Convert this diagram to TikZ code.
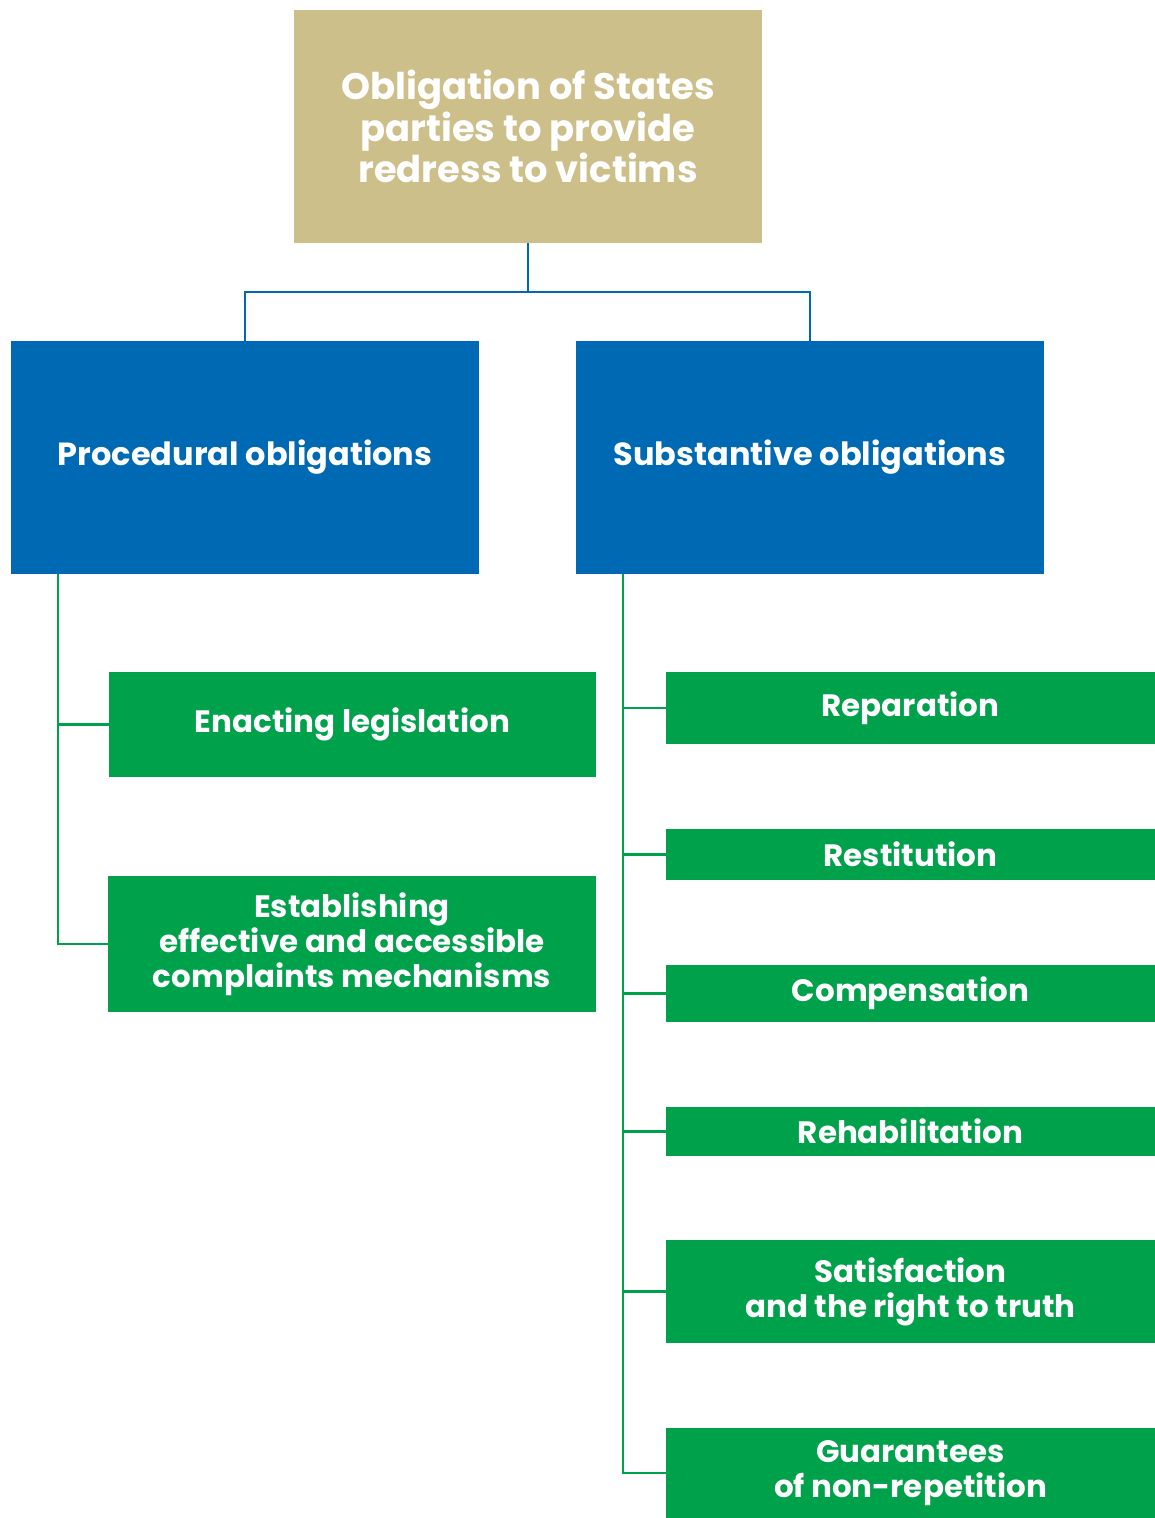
\documentclass[tikz,border=0pt]{standalone}
\usepackage{fontspec}
\setmainfont{Poppins}
\usepackage{xcolor}
\usepackage{tikz}
\usetikzlibrary{positioning,calc}
\definecolor{untan}{HTML}{CDBF8A}
\definecolor{unblue}{HTML}{0069B4}
\definecolor{ungreen}{HTML}{00A14B}

\begin{document}
\begin{tikzpicture}[x=0.02cm,y=-0.02cm,font=\bfseries]
    \tikzstyle{top}=[fill=untan,text=white,inner sep=0pt,minimum width=9.36cm,minimum height=4.66cm,align=center,font=\bfseries\fontsize{21}{23.8}\selectfont]
    \tikzstyle{mid}=[fill=unblue,text=white,inner sep=0pt,minimum width=9.36cm,minimum height=4.66cm,align=center,font=\bfseries\fontsize{18.2}{20}\selectfont]
    \tikzstyle{leaf}=[fill=ungreen,text=white,inner sep=0pt,minimum width=9.78cm,align=center,font=\bfseries\fontsize{17.6}{19.9}\selectfont]
    \tikzstyle{bline}=[draw=unblue,line width=1.5pt]
    \tikzstyle{gline}=[draw=ungreen,line width=1.5pt]
    \useasboundingbox (0,0) rectangle (1155,1518);
    \node[top] (obl) at (528,126.5) {Obligation of States\\parties to provide\\redress to victims};
    \node[mid] (proc) at (245,457.5) {Procedural obligations};
    \node[mid] (subs) at (810,457.5) {Substantive obligations};
    % procedural branch
    \node[leaf,minimum width=9.74cm,minimum height=2.1cm] (enact) at (352.5,724.5) {Enacting legislation};
    \node[leaf,minimum width=9.76cm,minimum height=2.72cm] (estab) at (352,944) {Establishing\\effective and accessible\\complaints mechanisms};
    % substantive branch
    \node[leaf,minimum height=1.44cm] (repar)  at (910.5,708)    {Reparation};
    \node[leaf,minimum height=1.02cm] (restit) at (910.5,854.5)  {Restitution};
    \node[leaf,minimum height=1.14cm] (comp)   at (910.5,993.5)  {Compensation};
    \node[leaf,minimum height=0.98cm] (rehab)  at (910.5,1131.5) {Rehabilitation};
    \node[leaf,minimum height=2.06cm] (satis)  at (910.5,1291.5) {Satisfaction\\and the right to truth};
    \node[leaf,minimum height=1.8cm]  (guar)   at (910.5,1473)   {Guarantees\\of non-repetition};
    \coordinate (fork) at (528,292);
    \coordinate (lspine) at (58,574);
    \coordinate (rspine) at (623,574);
    \draw[bline] (obl) -- (fork) -| (proc);
    \draw[bline] (fork) -| (subs);
    \foreach \b in {enact,estab} \draw[gline] (lspine) |- (\b);
    \foreach \b in {repar,restit,comp,rehab,satis,guar} \draw[gline] (rspine) |- (\b);
\end{tikzpicture}
\end{document}
